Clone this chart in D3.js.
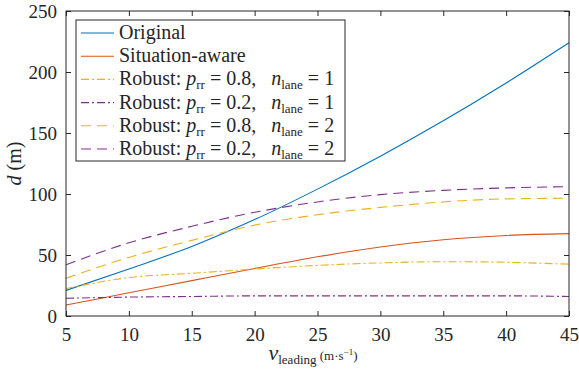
<!DOCTYPE html>
<html>
<head>
<meta charset="utf-8">
<script src="https://cdn.jsdelivr.net/npm/d3@7"></script>
<style>
  body { margin: 0; background: #fff; }
  #chart text, #chart tspan { font-family: "Liberation Serif", "DejaVu Serif", serif !important; }
</style>
</head>
<body>
<svg id="chart" width="579" height="370"></svg>
<script>
// speed of the leading vehicle (m/s)
var speeds = [5, 10, 15, 20, 25, 30, 35, 40, 45];

// distance d (m) for each policy
var original      = [21, 38.5, 57, 79, 104, 131, 160, 191, 224];
var situationAware = [9, 19, 29, 39, 48.5, 56.5, 62.5, 66, 67.5];
var robust08n1    = [22.5, 31.5, 35, 38.5, 41.5, 43.5, 44.5, 44, 42.5];
var robust02n1    = [14.5, 15.5, 16, 16.5, 16.5, 16.5, 16.5, 16.5, 16];
var robust08n2    = [31, 48, 62, 74.5, 83, 89, 93.5, 96, 96.5];
var robust02n2    = [42, 60, 73.5, 85, 93.5, 99.5, 103, 105, 106];

var xTicks = [5, 10, 15, 20, 25, 30, 35, 40, 45];
var yTicks = [0, 50, 100, 150, 200, 250];

var series = [
  { values: original,       color: "#0072BD", dash: null,      p: null,  n: null, label: "Original" },
  { values: situationAware, color: "#D95319", dash: null,      p: null,  n: null, label: "Situation-aware" },
  { values: robust08n1,     color: "#EDB120", dash: "8,3,2,3", p: "0.8", n: "1" },
  { values: robust02n1,     color: "#7E2F8E", dash: "8,3,2,3", p: "0.2", n: "1" },
  { values: robust08n2,     color: "#EDB120", dash: "10,6",    p: "0.8", n: "2" },
  { values: robust02n2,     color: "#7E2F8E", dash: "10,6",    p: "0.2", n: "2" }
];

var margin = { left: 66, right: 10, top: 11, bottom: 54 };
var svg = d3.select("#chart");
var width = 579 - margin.left - margin.right;
var height = 370 - margin.top - margin.bottom;

var x = d3.scaleLinear().domain([5, 45]).range([0, width]);
var y = d3.scaleLinear().domain([0, 250]).range([height, 0]);

var g = svg.append("g").attr("transform", "translate(" + margin.left + "," + margin.top + ")");

// lines
var line = d3.line()
  .x(function(d, i) { return x(speeds[i]); })
  .y(function(d) { return y(d); })
  .curve(d3.curveMonotoneX);

series.forEach(function(s) {
  g.append("path")
    .attr("d", line(s.values))
    .attr("fill", "none")
    .attr("stroke", s.color)
    .attr("stroke-width", 1.1)
    .attr("stroke-dasharray", s.dash);
});

// axes, ticks inside, box on
var tickLen = 5;
var axisColor = "#262626";

function styleAxis(sel, hideText) {
  sel.attr("font-size", 19).attr("font-family", null);
  sel.select(".domain").remove();
  sel.selectAll(".tick line").attr("stroke", axisColor).attr("stroke-width", 1);
  sel.selectAll(".tick text")
    .attr("fill", axisColor)
    .style("font-family", "'Liberation Serif', serif");
  if (hideText) sel.selectAll(".tick text").remove();
}

g.append("g").attr("transform", "translate(0," + height + ")")
  .call(d3.axisBottom(x).tickValues(xTicks).tickSizeInner(-tickLen).tickPadding(12))
  .call(styleAxis, false);
g.append("g")
  .call(d3.axisTop(x).tickValues(xTicks).tickSizeInner(-tickLen))
  .call(styleAxis, true);
g.append("g")
  .call(d3.axisLeft(y).tickValues(yTicks).tickSizeInner(-tickLen).tickPadding(9))
  .call(styleAxis, false);
g.append("g").attr("transform", "translate(" + width + ",0)")
  .call(d3.axisRight(y).tickValues(yTicks).tickSizeInner(-tickLen))
  .call(styleAxis, true);

g.append("rect")
  .attr("x", 0).attr("y", 0)
  .attr("width", width).attr("height", height)
  .attr("fill", "none")
  .attr("stroke", axisColor)
  .attr("stroke-width", 1);

// axis labels
var xl = svg.append("text")
  .attr("x", 313).attr("y", 360)
  .attr("text-anchor", "middle")
  .attr("fill", axisColor);
xl.append("tspan").text("v").style("font-style", "italic").style("font-size", "22px");
xl.append("tspan").text("leading").style("font-size", "13px").attr("dy", 4);
xl.append("tspan").text(" (m·s").style("font-size", "13px").attr("dy", -4);
xl.append("tspan").text("−1").style("font-size", "9px").attr("dy", -5);
xl.append("tspan").text(")").style("font-size", "13px").attr("dy", 5);

var yl = svg.append("text")
  .attr("transform", "translate(21," + (margin.top + height / 2) + ") rotate(-90)")
  .attr("text-anchor", "middle")
  .attr("fill", axisColor)
  .style("font-size", "20px");
yl.append("tspan").text("d").style("font-style", "italic");
yl.append("tspan").text(" (m)");

// legend
var leg = svg.append("g").attr("transform", "translate(76,20)");
leg.append("rect")
  .attr("width", 269).attr("height", 141)
  .attr("fill", "#fff")
  .attr("stroke", axisColor)
  .attr("stroke-width", 1);

var rowH = 23.2;
series.forEach(function(s, i) {
  var cy = 13 + i * rowH;
  leg.append("line")
    .attr("x1", 5).attr("x2", 38)
    .attr("y1", cy).attr("y2", cy)
    .attr("stroke", s.color)
    .attr("stroke-width", 1.1)
    .attr("stroke-dasharray", s.dash);
  var t = leg.append("text")
    .attr("x", 43).attr("y", cy + 6)
    .attr("fill", axisColor)
    .style("font-size", "20px");
  if (s.label) {
    t.text(s.label);
  } else {
    t.append("tspan").text("Robust:  ");
    t.append("tspan").text("p").style("font-style", "italic");
    t.append("tspan").text("rr").style("font-size", "13px").attr("dy", 4);
    t.append("tspan").text(" = " + s.p + ",\u2002 ").attr("dy", -4);
    t.append("tspan").text("n").style("font-style", "italic");
    t.append("tspan").text("lane").style("font-size", "13px").attr("dy", 4);
    t.append("tspan").text(" = " + s.n).attr("dy", -4);
  }
});
</script>
</body>
</html>
